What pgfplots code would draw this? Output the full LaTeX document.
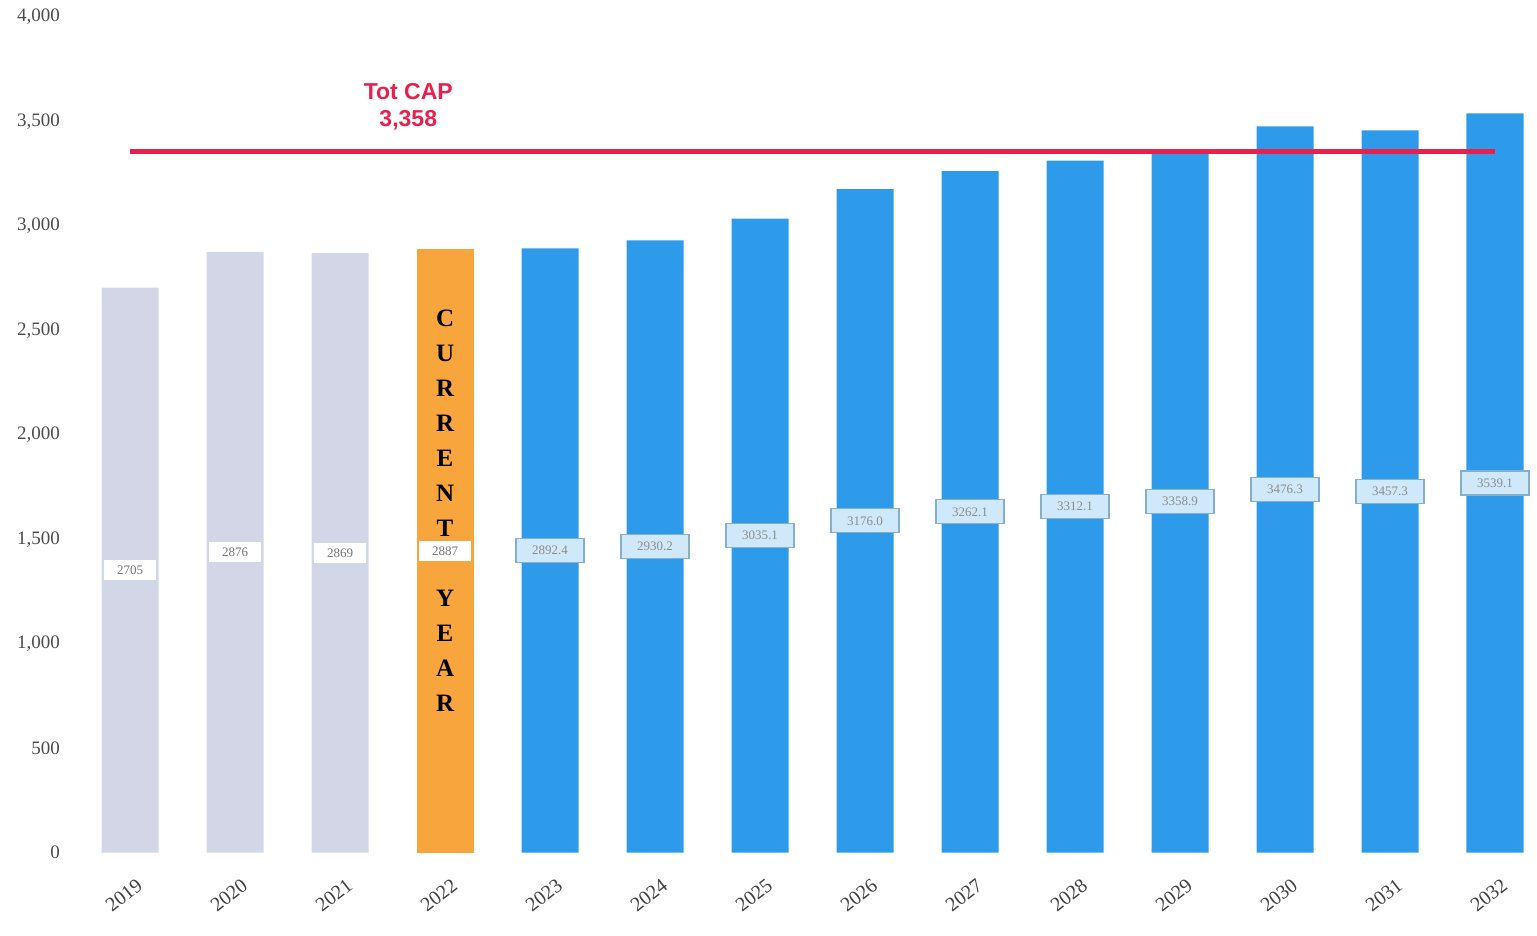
\documentclass[border=0pt]{standalone}
\usepackage{pgfplots}
\usepackage{pgfplotstable}
\pgfplotsset{compat=1.18}
\usepackage{fontspec}
\setmainfont{Liberation Serif}
\newfontfamily\capfont{Liberation Sans}

\definecolor{pastbar}{HTML}{D3D6E6}
\definecolor{nowbar}{HTML}{F8A53E}
\definecolor{futbar}{HTML}{2E9BEA}
\definecolor{capred}{HTML}{E8204E}
\definecolor{lblfill}{HTML}{CFE8FA}
\definecolor{lbldraw}{HTML}{86AFCB}

% x = position (0 = 2019), v = value, lab = printed label
\pgfplotstableread{
x v lab
0 2705 2705
1 2876 2876
2 2869 2869
}\past
\pgfplotstableread{
x v lab
3 2887 2887
}\now
\pgfplotstableread{
x v lab
4 2892.4 2892.4
5 2930.2 2930.2
6 3035.1 3035.1
7 3176.0 3176.0
8 3262.1 3262.1
9 3312.1 3312.1
10 3358.9 3358.9
11 3476.3 3476.3
12 3457.3 3457.3
13 3539.1 3539.1
}\future

\begin{document}
\begin{tikzpicture}
\begin{axis}[
  scale only axis,
  width=734.5pt, height=417.5pt,
  xmin=-0.6, xmax=13.4,
  ymin=0, ymax=4000,
  ytick={0,500,...,4000},
  xtick={0,...,13},
  xticklabels={2019,2020,2021,2022,2023,2024,2025,2026,2027,2028,2029,2030,2031,2032},
  xticklabel style={rotate=38, anchor=north east, xshift=-2pt, yshift=-8pt,
    font=\fontsize{10}{12}\selectfont, text=black!75},
  yticklabel style={font=\fontsize{9.5}{11}\selectfont, text=black!70},
  /pgf/number format/1000 sep={,},
  /pgf/number format/assume math mode=true,
  axis line style={draw=none},
  tick style={draw=none},
  clip=false,
]
\addplot[ybar, bar width=28.5pt, bar shift=0pt, fill=pastbar, draw=none] table[x=x, y=v] {\past};
\addplot[ybar, bar width=28.5pt, bar shift=0pt, fill=nowbar, draw=none] table[x=x, y=v] {\now};
\addplot[ybar, bar width=28.5pt, bar shift=0pt, fill=futbar, draw=none] table[x=x, y=v] {\future};

% value labels in the middle of each bar
\addplot[draw=none, mark=none, nodes near coords, point meta=explicit symbolic,
  every node near coord/.append style={anchor=center, fill=white, inner sep=1pt,
    minimum width=26pt, minimum height=10pt, font=\fontsize{6.5}{7}\selectfont, text=black!55}]
  table[x=x, y expr=\thisrow{v}/2, meta=lab] {\past};
\addplot[draw=none, mark=none, nodes near coords, point meta=explicit symbolic,
  every node near coord/.append style={anchor=center, fill=white, inner sep=1pt,
    minimum width=26pt, minimum height=10pt, font=\fontsize{6.5}{7}\selectfont, text=black!55}]
  table[x=x, y expr=\thisrow{v}/2, meta=lab] {\now};
\addplot[draw=none, mark=none, nodes near coords, point meta=explicit symbolic,
  every node near coord/.append style={anchor=center, fill=lblfill, draw=lbldraw, line width=0.6pt,
    inner sep=1.5pt, minimum width=34pt, minimum height=12pt, font=\fontsize{6.5}{7}\selectfont, text=black!45}]
  table[x=x, y expr=\thisrow{v}/2, meta=lab] {\future};

% total capacity line
\addplot[capred, line width=2.5pt] coordinates {(0,3358) (13,3358)};
\node[text=capred, align=center, font=\capfont\bfseries\fontsize{11.5}{13.5}\selectfont]
  at (axis cs:2.65,3570) {Tot CAP\\3,358};

% current year marker
\node[align=center, font=\bfseries\fontsize{12.5}{17.5}\selectfont]
  at (axis cs:3,2057) {C\\U\\R\\R\\E\\N\\T};
\node[align=center, font=\bfseries\fontsize{12.5}{17.5}\selectfont]
  at (axis cs:3,968) {Y\\E\\A\\R};

% page margins as in the reference
\path (rel axis cs:0,1) ++(-33.5pt,8.5pt);
\path (rel axis cs:0,0) ++(-33.5pt,-41.5pt);
\end{axis}
\end{tikzpicture}
\end{document}
